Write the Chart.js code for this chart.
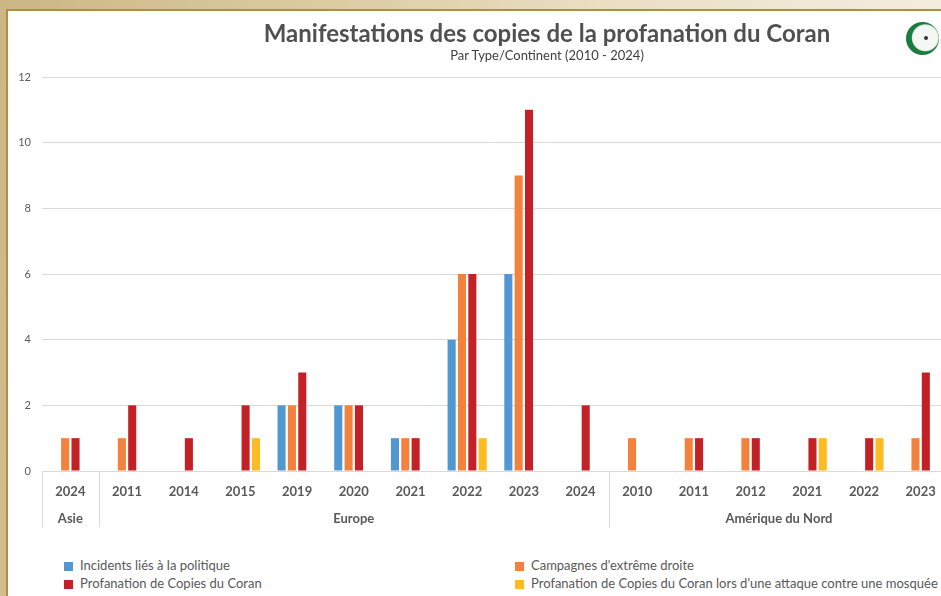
<!DOCTYPE html>
<html>
<head>
<meta charset="utf-8">
<script src="https://cdn.jsdelivr.net/npm/chart.js@4.4.1/dist/chart.umd.min.js"></script>
<style>
  body { margin: 0; width: 941px; height: 596px; overflow: hidden; position: relative;
    background: linear-gradient(100deg, #cbb684 0%, #dccaa0 30%, #ebe0c6 60%, #f7f2e8 100%);
    font-family: Lato, "Open Sans", sans-serif; }
  #panel { position: absolute; left: 6px; top: 9px; width: 960px; height: 600px; background: #fff;
    border-left: 2px solid #b28e45; border-top: 2px solid #b28e45; }
  #title { position: absolute; left: 0; width: 1078px; top: 7px; text-align: center;
    font-size: 24px; font-weight: bold; color: #505050; }
  #subtitle { position: absolute; left: 0; width: 1078px; top: 36px; text-align: center;
    font-size: 13px; color: #404040; }
  #logo { position: absolute; left: 897px; top: 10px; width: 35px; height: 35px; border-radius: 50%;
    background: radial-gradient(circle at 58% 48%, #f4f7f4 0 12px, #d8e4d8 13px, transparent 14px),
                radial-gradient(circle at 50% 50%, #1b7a3e 0 16px, transparent 17px); }
  #logo:after { content: ""; position: absolute; left: 19px; top: 15px; width: 4px; height: 4px;
    border-radius: 50%; background: #333; }
  canvas { position: absolute; left: 0; top: 0; }
  .leg { position: absolute; font-size: 13px; color: #595959; white-space: nowrap; }
  .leg span { display: inline-block; width: 9px; height: 9px; margin-right: 7px; vertical-align: -1px; }
</style>
</head>
<body>
<div id="panel">
  <canvas id="chart" width="941" height="530"></canvas>
  <div id="title">Manifestations des copies de la profanation du Coran</div>
  <div id="subtitle">Par Type/Continent (2010 - 2024)</div>
  <div id="logo"></div>
  <div id="legend"></div>
</div>
<script>
var docById = function (id) { return document.getElementById(id); };

// categories (years) and their continent groups
const years = ['2024', '2011', '2014', '2015', '2019', '2020', '2021', '2022', '2023', '2024',
               '2010', '2011', '2012', '2021', '2022', '2023'];
const groupNames = ['Asie', 'Europe', 'Amérique du Nord'];
const groupSizes = [1, 9, 6];

const seriesNames = [
  'Incidents liés à la politique',
  "Campagnes d'extrême droite",
  'Profanation de Copies du Coran',
  "Profanation de Copies du Coran lors d'une attaque contre une mosquée"
];
const seriesColors = ['#5197d1', '#f2823c', '#c42127', '#fdbb22'];

const politique = [null, null, null, null, 2, 2, 1, 4, 6, null, null, null, null, null, null, null];
const extremeDroite = [1, 1, null, null, 2, 2, 1, 6, 9, null, 1, 1, 1, null, null, 1];
const profanation = [1, 2, 1, 2, 3, 2, 1, 6, 11, 2, null, 1, 1, 1, 1, 3];
const mosquee = [null, null, null, 1, null, null, null, 1, null, null, null, null, null, 1, 1, null];

const yTicks = [0, 2, 4, 6, 8, 10, 12];

const seriesData = [politique, extremeDroite, profanation, mosquee];

// second row of the x axis: continent names and separators
const groupAxis = {
  id: 'groupAxis',
  afterDraw(chart) {
    const ctx = chart.ctx;
    const x = chart.scales.x;
    const bottom = chart.chartArea.bottom;
    const step = x.getPixelForValue(1) - x.getPixelForValue(0);
    ctx.save();
    ctx.strokeStyle = '#d9d9d9';
    ctx.lineWidth = 1;
    ctx.fillStyle = '#595959';
    ctx.font = 'bold 13px Lato, "Open Sans", sans-serif';
    ctx.textAlign = 'center';
    ctx.textBaseline = 'middle';
    let start = 0;
    for (let g = 0; g < groupNames.length; g++) {
      const end = start + groupSizes[g] - 1;
      const left = Math.round(x.getPixelForValue(start) - step / 2) + 0.5;
      ctx.beginPath();
      ctx.moveTo(left, bottom);
      ctx.lineTo(left, bottom + 56);
      ctx.stroke();
      const mid = (x.getPixelForValue(start) + x.getPixelForValue(end)) / 2;
      ctx.fillText(groupNames[g], mid, bottom + 48);
      start = end + 1;
    }
    ctx.restore();
  }
};

new Chart(docById('chart').getContext('2d'), {
  type: 'bar',
  data: {
    labels: years,
    datasets: seriesNames.map((name, i) => ({
      label: name,
      data: seriesData[i],
      backgroundColor: seriesColors[i],
      borderWidth: 0,
      categoryPercentage: 0.73,
      barPercentage: 0.78
    }))
  },
  options: {
    responsive: false,
    animation: false,
    layout: { padding: { top: 66, right: 0, left: 0, bottom: 0 } },
    scales: {
      y: {
        min: 0, max: 12,
        afterBuildTicks: (s) => { s.ticks = yTicks.map(v => ({ value: v })); },
        afterFit: (s) => { s.width = 34; },
        border: { display: false },
        grid: { color: '#d9d9d9', drawTicks: false },
        ticks: { padding: 11, color: '#595959', font: { size: 11, family: 'Lato, "Open Sans", sans-serif' } }
      },
      x: {
        afterFit: (s) => { s.height = 70; },
        border: { display: false },
        grid: { display: false },
        ticks: { padding: 5, color: '#595959', maxRotation: 0, autoSkip: false,
                 font: { size: 13, weight: 'bold', family: 'Lato, "Open Sans", sans-serif' } }
      }
    },
    plugins: {
      legend: { display: false },
      tooltip: { enabled: false }
    }
  },
  plugins: [groupAxis]
});

// legend in two columns under the chart
const legendPos = [[56, 546], [507, 546], [56, 564], [507, 564]];
seriesNames.forEach((name, i) => {
  const d = document.createElement('div');
  d.className = 'leg';
  d.style.left = legendPos[i][0] + 'px';
  d.style.top = legendPos[i][1] + 'px';
  d.innerHTML = '<span style="background:' + seriesColors[i] + '"></span>' + name;
  docById('legend').appendChild(d);
});
</script>
</body>
</html>
